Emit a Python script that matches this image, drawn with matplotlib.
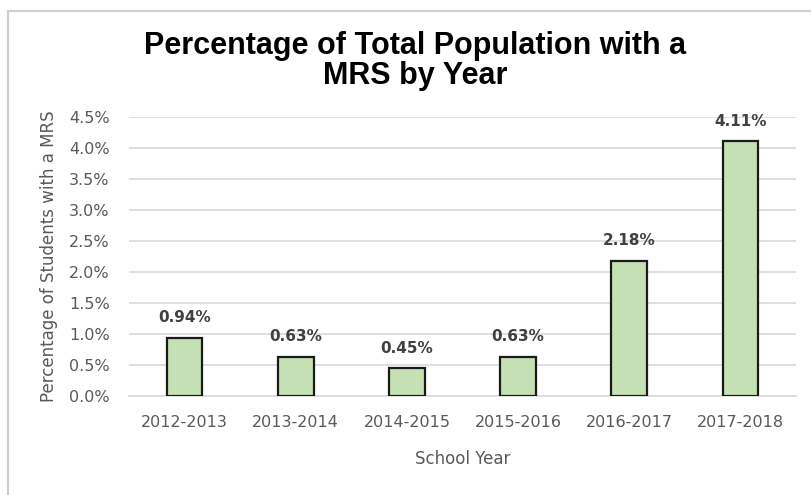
"""
MRS share of total population by school year
"""

import matplotlib

matplotlib.use("Agg")

import matplotlib.pyplot as plt
from matplotlib import font_manager
from matplotlib.patches import Rectangle
from matplotlib.ticker import FuncFormatter, MultipleLocator


YEARS = ["2012-2013", "2013-2014", "2014-2015", "2015-2016", "2016-2017", "2017-2018"]
MRS_SHARE = [0.0094, 0.0063, 0.0045, 0.0063, 0.0218, 0.0411]
LABELS = ["0.94%", "0.63%", "0.45%", "0.63%", "2.18%", "4.11%"]

TITLE = "Percentage of Total Population with a\nMRS by Year"
X_LABEL = "School Year"
Y_LABEL = "Percentage of Students with a MRS"

BAR_FILL = "#c5e0b4"
GRID_GRAY = "#d9d9d9"
TEXT_GRAY = "#595959"


def title_font():
    available = {f.name for f in font_manager.fontManager.ttflist}
    for name in ["Liberation Sans Narrow", "Liberation Sans", "DejaVu Sans"]:
        if name in available:
            return name
    return "DejaVu Sans"


def main():
    fig = plt.figure(figsize=(8.12, 4.95), dpi=100)

    # chart frame (top and left edges visible)
    fig.patches.append(
        Rectangle(
            (8 / 812, -0.1), 1.2, 1.1 - 10.5 / 495,
            transform=fig.transFigure, fill=False,
            edgecolor="#d0d0d0", linewidth=1.5,
        )
    )

    ax = fig.add_axes([129 / 812, 1 - 396 / 495, 667 / 812, 279 / 495])
    x = range(len(YEARS))
    bars = ax.bar(
        x, MRS_SHARE, width=0.32, color=BAR_FILL,
        edgecolor="#1a1a1a", linewidth=1.6, zorder=3,
    )

    for bar, label in zip(bars, LABELS):
        ax.annotate(
            label,
            (bar.get_x() + bar.get_width() / 2, bar.get_height()),
            xytext=(0, 9), textcoords="offset points",
            ha="center", va="bottom", fontsize=11, fontweight="bold",
            color="#404040", annotation_clip=False, zorder=4,
        )

    ax.set_xlim(-0.5, len(YEARS) - 0.5)
    ax.set_ylim(0, 0.045)
    ax.yaxis.set_major_locator(MultipleLocator(0.005))
    ax.yaxis.set_major_formatter(FuncFormatter(lambda v, _: f"{v * 100:.1f}%"))
    ax.set_xticks(list(x))
    ax.set_xticklabels(YEARS)

    ax.grid(axis="y", color=GRID_GRAY, linewidth=1.2, zorder=0)
    for side in ["top", "right", "left"]:
        ax.spines[side].set_visible(False)
    ax.spines["bottom"].set_color(GRID_GRAY)
    ax.spines["bottom"].set_linewidth(1.2)
    ax.tick_params(axis="both", length=0, labelsize=11.5, labelcolor=TEXT_GRAY)
    ax.tick_params(axis="x", pad=14)
    ax.tick_params(axis="y", pad=14)

    ax.set_xlabel(X_LABEL, fontsize=12, color=TEXT_GRAY, labelpad=14)
    ax.set_ylabel(Y_LABEL, fontsize=12, color=TEXT_GRAY, labelpad=8)

    fig.text(
        0.511, 1 - 61 / 495, TITLE, ha="center", va="center",
        fontsize=22, fontweight="bold", family=title_font(),
        linespacing=1.0, color="black",
    )

    fig.savefig("out.png", dpi=100)
    plt.close(fig)


if __name__ == "__main__":
    main()
